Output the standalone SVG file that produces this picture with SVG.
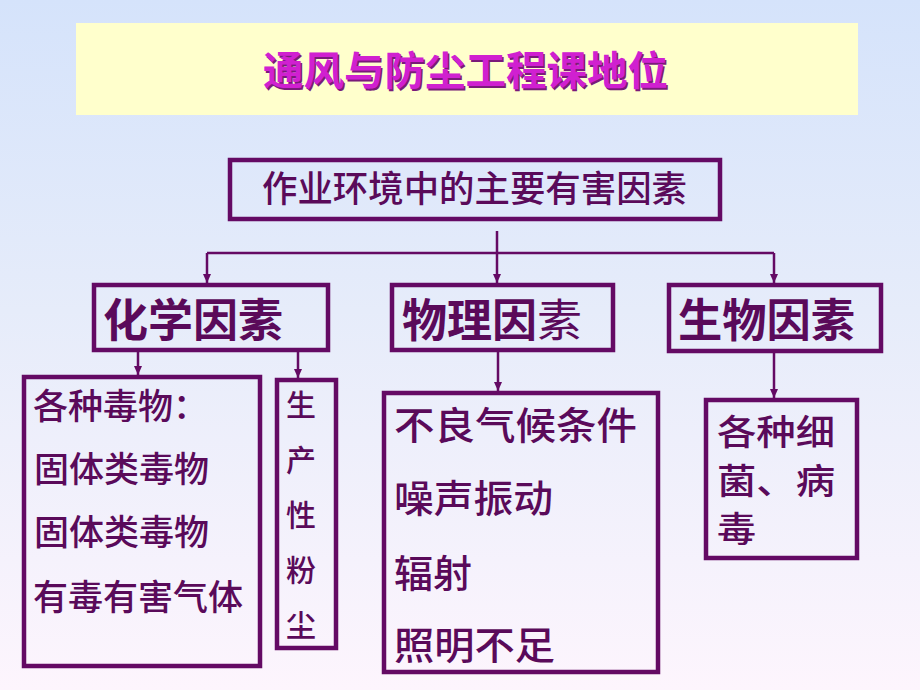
<svg xmlns="http://www.w3.org/2000/svg" width="920" height="690" viewBox="0 0 920 690">
  <defs>
    <linearGradient id="bg" x1="0" y1="0" x2="0" y2="1">
      <stop offset="0" stop-color="#d5e3fb"/>
      <stop offset="0.45" stop-color="#e6ecfa"/>
      <stop offset="1" stop-color="#fdf5fd"/>
    </linearGradient>
    <marker id="arr" markerUnits="userSpaceOnUse" markerWidth="10" markerHeight="10" viewBox="0 0 10 10" refX="9" refY="5" orient="auto">
      <path d="M0,1 L9,5 L0,9 Z" fill="#640a64"/>
    </marker>
    <style>
      .box { fill: none; stroke: #640a64; stroke-width: 4.5; }
      .ln { fill: none; stroke: #640a64; stroke-width: 2.5; }
      .arrow { fill: none; stroke: #640a64; stroke-width: 2.5; }
      .t { font-family: "Noto Sans CJK SC", "Noto Sans", sans-serif; fill: #5a0a5a; font-weight: 500; }
      .h2 { font-size: 45px; font-weight: bold; }
      .b1 { font-size: 35px; }
      .b2 { font-size: 30px; text-anchor: middle; }
      .b3 { font-size: 38px; }
      .b4 { font-size: 35px; }
    </style>
  </defs>
  <rect x="0" y="0" width="920" height="690" fill="url(#bg)"/>

  <g id="title">
    <rect x="76" y="23" width="782" height="92" fill="#ffffcc"/>
    <text x="264.5" y="86.5" class="t" style="font-size:40px;font-weight:bold;fill:#7a1a7a" textLength="405" lengthAdjust="spacingAndGlyphs">通风与防尘工程课地位</text>
    <text x="263" y="85" class="t" style="font-size:40px;font-weight:bold;fill:#d020d0" textLength="405" lengthAdjust="spacingAndGlyphs">通风与防尘工程课地位</text>
  </g>

  <g id="root">
    <rect x="230" y="160" width="490" height="59" class="box"/>
    <text x="262" y="202" class="t" style="font-size:36px" textLength="425" lengthAdjust="spacingAndGlyphs">作业环境中的主要有害因素</text>
  </g>

  <g id="chem">
    <rect x="94" y="285" width="234" height="65" class="box"/>
    <text x="103" y="337" class="t h2" textLength="180" lengthAdjust="spacingAndGlyphs">化学因素</text>
  </g>

  <g id="phys">
    <rect x="392" y="285" width="221" height="65" class="box"/>
    <text x="402" y="337" class="t h2" textLength="180" lengthAdjust="spacingAndGlyphs">物理因<tspan font-weight="normal">素</tspan></text>
  </g>

  <g id="bio">
    <rect x="669" y="285" width="212" height="66" class="box"/>
    <text x="678" y="337" class="t h2" textLength="177" lengthAdjust="spacingAndGlyphs">生物因素</text>
  </g>

  <g id="toxins">
    <rect x="24" y="377" width="236" height="289" class="box"/>
    <text x="33" y="419" class="t b1">各种毒物：</text>
    <text x="34" y="482" class="t b1">固体类毒物</text>
    <text x="34" y="545" class="t b1">固体类毒物</text>
    <text x="33" y="610" class="t b1">有毒有害气体</text>
  </g>

  <g id="dust">
    <rect x="277" y="380" width="59" height="268" class="box"/>
    <text x="301" y="416" class="t b2">生</text>
    <text x="301" y="471" class="t b2">产</text>
    <text x="301" y="526" class="t b2">性</text>
    <text x="301" y="581" class="t b2">粉</text>
    <text x="301" y="636" class="t b2">尘</text>
  </g>

  <g id="physical-list">
    <rect x="384" y="393" width="274" height="279" class="box"/>
    <text x="394" y="439" class="t b3" textLength="243" lengthAdjust="spacingAndGlyphs">不良气候条件</text>
    <text x="394" y="512" class="t b3" textLength="159" lengthAdjust="spacingAndGlyphs">噪声振动</text>
    <text x="394" y="587" class="t b3" textLength="78" lengthAdjust="spacingAndGlyphs">辐射</text>
    <text x="394" y="659" class="t b3" textLength="161" lengthAdjust="spacingAndGlyphs">照明不足</text>
  </g>

  <g id="bio-list">
    <rect x="706" y="400" width="151" height="158" class="box"/>
    <text x="717" y="445" class="t b4" textLength="118" lengthAdjust="spacingAndGlyphs">各种细</text>
    <text x="717" y="494" class="t b4" textLength="118" lengthAdjust="spacingAndGlyphs">菌、病</text>
    <text x="717" y="542" class="t b4" textLength="39" lengthAdjust="spacingAndGlyphs">毒</text>
  </g>

  <g id="connectors">
    <path class="ln" d="M497,231 V253 M207,253 H774"/>
    <path class="arrow" d="M207,253 V283" marker-end="url(#arr)"/>
    <path class="arrow" d="M497,253 V283" marker-end="url(#arr)"/>
    <path class="arrow" d="M774,253 V283" marker-end="url(#arr)"/>
    <path class="arrow" d="M138,352 V375" marker-end="url(#arr)"/>
    <path class="arrow" d="M298,352 V378" marker-end="url(#arr)"/>
    <path class="arrow" d="M498,352 V391" marker-end="url(#arr)"/>
    <path class="arrow" d="M774,353 V398" marker-end="url(#arr)"/>
  </g>
</svg>
